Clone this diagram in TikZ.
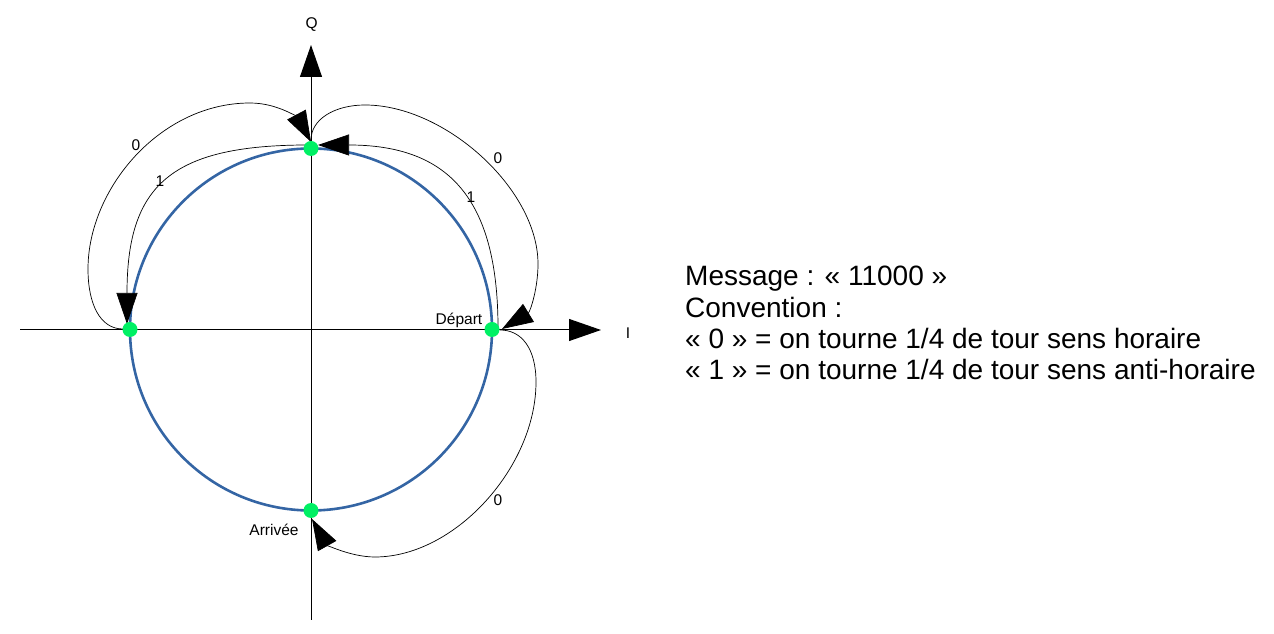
\documentclass[tikz,border=0pt]{standalone}
\usepackage{fontspec}
\setmainfont{Liberation Sans}
\usetikzlibrary{arrows.meta}
\definecolor{circblue}{HTML}{3465A4}
\definecolor{dotgreen}{RGB}{0,240,100}
\begin{document}
\begin{tikzpicture}[x=1pt,y=1pt,
  dot/.style={circle,fill=dotgreen,inner sep=0pt,minimum size=15pt},
  axisline/.style={line width=1pt,-{Triangle[length=32pt,width=22pt]}},
  trans/.style={line width=0.7pt,-{Triangle[length=31pt,width=21pt]}},
  lbl/.style={font=\fontsize{15.5}{18}\selectfont,inner sep=0pt},
  msgline/.style={anchor=base west,inner sep=0pt,font=\fontsize{28}{31}\selectfont}
]
\useasboundingbox (0,0) rectangle (1274,634);
% axes
\coordinate (xs) at (20,304);
\coordinate (xe) at (601,304);
\coordinate (ys) at (311,14);
\coordinate (ye) at (311,589);
\draw[axisline] (xs) -- (xe);
\draw[axisline] (ys) -- (ye);
\node[lbl] (Q) at (311.7,609) {Q};
\node[lbl] (Ilab) at (628,301) {I};
% circle
\coordinate (C) at (311,304.5);
\draw[circblue,line width=2.6pt] (C) circle[radius=181];
% transition end points
\coordinate (R1s) at (498,306);
\coordinate (T1e) at (318,489);
\coordinate (T2s) at (308,489);
\coordinate (L2e) at (127,310);
\coordinate (L3s) at (123,305);
\coordinate (T3e) at (311,492);
\coordinate (T4s) at (311,494);
\coordinate (R4e) at (502,305);
\coordinate (R5s) at (500,304);
\coordinate (B5e) at (312,115);
% transitions
\draw[trans] (R1s) .. controls (498,436) and (448,489) .. (T1e);
\draw[trans] (T2s) .. controls (170,489) and (127,448) .. (L2e);
\draw[trans] (L3s) .. controls (100,305) and (88,330) .. (88,365)
  .. controls (88,445) and (160,531) .. (250,531)
  .. controls (280,531) and (299.3,514) .. (T3e);
\draw[trans] (T4s) .. controls (311,515) and (335,529) .. (365,529)
  .. controls (445,529) and (538,445) .. (538,370)
  .. controls (538,345) and (530,322) .. (R4e);
\draw[trans] (R5s) .. controls (522,304) and (536,285) .. (536,252)
  .. controls (536,167) and (455,77) .. (375,77)
  .. controls (350,77) and (326,90) .. (B5e);
% labels of transitions
\node[lbl] (l0a) at (136,489) {0};
\node[lbl] (l1a) at (160,453) {1};
\node[lbl] (l0b) at (498,476) {0};
\node[lbl] (l1b) at (471,437) {1};
\node[lbl] (l0c) at (498,134) {0};
\node[lbl] (dep) at (459,314) {Départ};
\node[lbl] (arr) at (274,104) {Arrivée};
% dots
\node[dot] (T) at (311,485.5) {};
\node[dot] (L) at (130,304.5) {};
\node[dot] (R) at (492,304.5) {};
\node[dot] (B) at (311,123.5) {};
% message
\node[msgline] (m1) at (685,348) {Message : « 11000 »};
\node[msgline] (m2) at (685,316.7) {Convention :};
\node[msgline] (m3) at (685,285.4) {« 0 » = on tourne 1/4 de tour sens horaire};
\node[msgline] (m4) at (685,254) {« 1 » = on tourne 1/4 de tour sens anti-horaire};
\end{tikzpicture}
\end{document}
